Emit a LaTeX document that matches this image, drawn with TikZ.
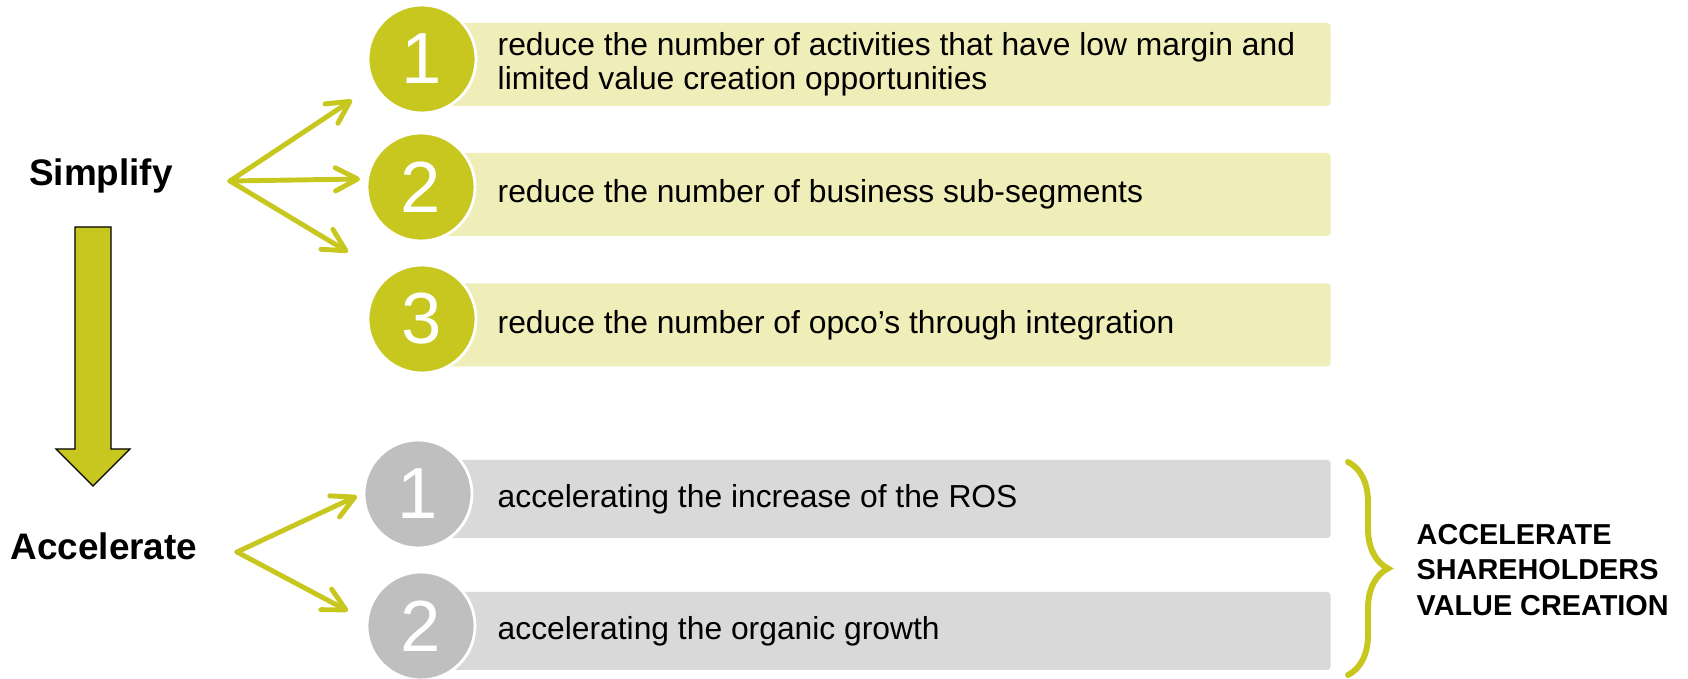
\documentclass[tikz,border=0pt]{standalone}
\usepackage{fontspec}
\setmainfont{Liberation Sans}
\usetikzlibrary{positioning}
\usetikzlibrary{math}
\usetikzlibrary{arrows.meta}
\usetikzlibrary{decorations.pathreplacing}
\definecolor{olive}{RGB}{199,199,32}
\definecolor{olivelight}{RGB}{239,238,185}
\definecolor{greycirc}{RGB}{191,191,191}
\definecolor{greybar}{RGB}{217,217,217}
\tikzset{numcirc/.style={circle, fill=#1, draw=white, line width=0.8pt, minimum size=1.08cm, inner sep=0pt, text=white, font=\fontsize{20.6}{20.6}\selectfont},numcirc/.default={olive}}
\tikzset{barbox/.style={rectangle, fill=#1, rounded corners=1pt, minimum width=9.1cm, minimum height=0.83cm, inner sep=0pt, anchor=west}}
\tikzset{bartext/.style={anchor=west, inner sep=0pt, align=left, font=\fontsize{9.05}{9.7}\selectfont}}
\tikzset{fan/.style={draw=olive, line width=1.4pt, line cap=round, -{Straight Barb[length=6.3pt,width=6.6pt,round]}}}
\tikzset{headline/.style={inner sep=0pt, anchor=base, font=\bfseries\fontsize{10.5}{12}\selectfont}}

\begin{document}
\begin{tikzpicture}
	\useasboundingbox (0,0) rectangle (16.88,-6.79);
	\tikzmath{\bx=4.2; \tx=0.77;}
	\node[headline] (simp) at (1.01,-1.86) {Simplify};
	\node[headline] (accel) at (1.04,-5.60) {Accelerate};
	\filldraw[fill=olive, draw=black, line width=0.4pt] (0.75,-2.27) -- (1.11,-2.27) -- (1.11,-4.49) -- (1.30,-4.49) -- (0.93,-4.86) -- (0.56,-4.49) -- (0.75,-4.49) -- cycle;
	% bars
	\node[barbox=olivelight] (b1) at (\bx,-0.645) {};
	\node[barbox=olivelight] (b2) at (\bx,-1.945) {};
	\node[barbox=olivelight] (b3) at (\bx,-3.25) {};
	\node[barbox=greybar, minimum height=0.78cm] (b4) at (\bx,-4.99) {};
	\node[barbox=greybar, minimum height=0.78cm] (b5) at (\bx,-6.31) {};
	% circles
	\node[numcirc] (c1) at (4.22,-0.59) {1};
	\node[numcirc] (c2) at (4.21,-1.87) {2};
	\node[numcirc] (c3) at (4.22,-3.19) {3};
	\node[numcirc=greycirc] (g1) at (4.18,-4.94) {1};
	\node[numcirc=greycirc] (g2) at (4.21,-6.26) {2};
	% texts
	\node[bartext] (t1) at ([xshift=\tx cm]b1.west) {reduce the number of activities that have low margin and\\limited value creation opportunities};
	\node[bartext] (t2) at ([xshift=\tx cm]b2.west) {reduce the number of business sub-segments};
	\node[bartext] (t3) at ([xshift=\tx cm]b3.west) {reduce the number of opco’s through integration};
	\node[bartext] (t4) at ([xshift=\tx cm]b4.west) {accelerating the increase of the ROS};
	\node[bartext] (t5) at ([xshift=\tx cm]b5.west) {accelerating the organic growth};
	% fans
	\coordinate (sfan) at (2.30,-1.81);
	\coordinate (s1) at (3.52,-1.00);
	\coordinate (s2) at (3.60,-1.79);
	\coordinate (s3) at (3.48,-2.52);
	\coordinate (afan) at (2.37,-5.52);
	\coordinate (a1) at (3.57,-4.96);
	\coordinate (a2) at (3.48,-6.11);
	\draw[fan] (sfan) -- (s1);
	\draw[fan] (sfan) -- (s2);
	\draw[fan] (sfan) -- (s3);
	\draw[fan] (afan) -- (a1);
	\draw[fan] (afan) -- (a2);
	% brace
	\draw[draw=olive, line width=1.7pt, line cap=round, decorate, decoration={brace, amplitude=0.40cm}] (13.48,-4.62) -- (13.48,-6.75);
	\node[anchor=west, inner sep=0pt, align=left, font=\bfseries\fontsize{8.2}{10}\selectfont] (goal) at (14.16,-5.70) {ACCELERATE\\SHAREHOLDERS\\VALUE CREATION};
\end{tikzpicture}
\end{document}
